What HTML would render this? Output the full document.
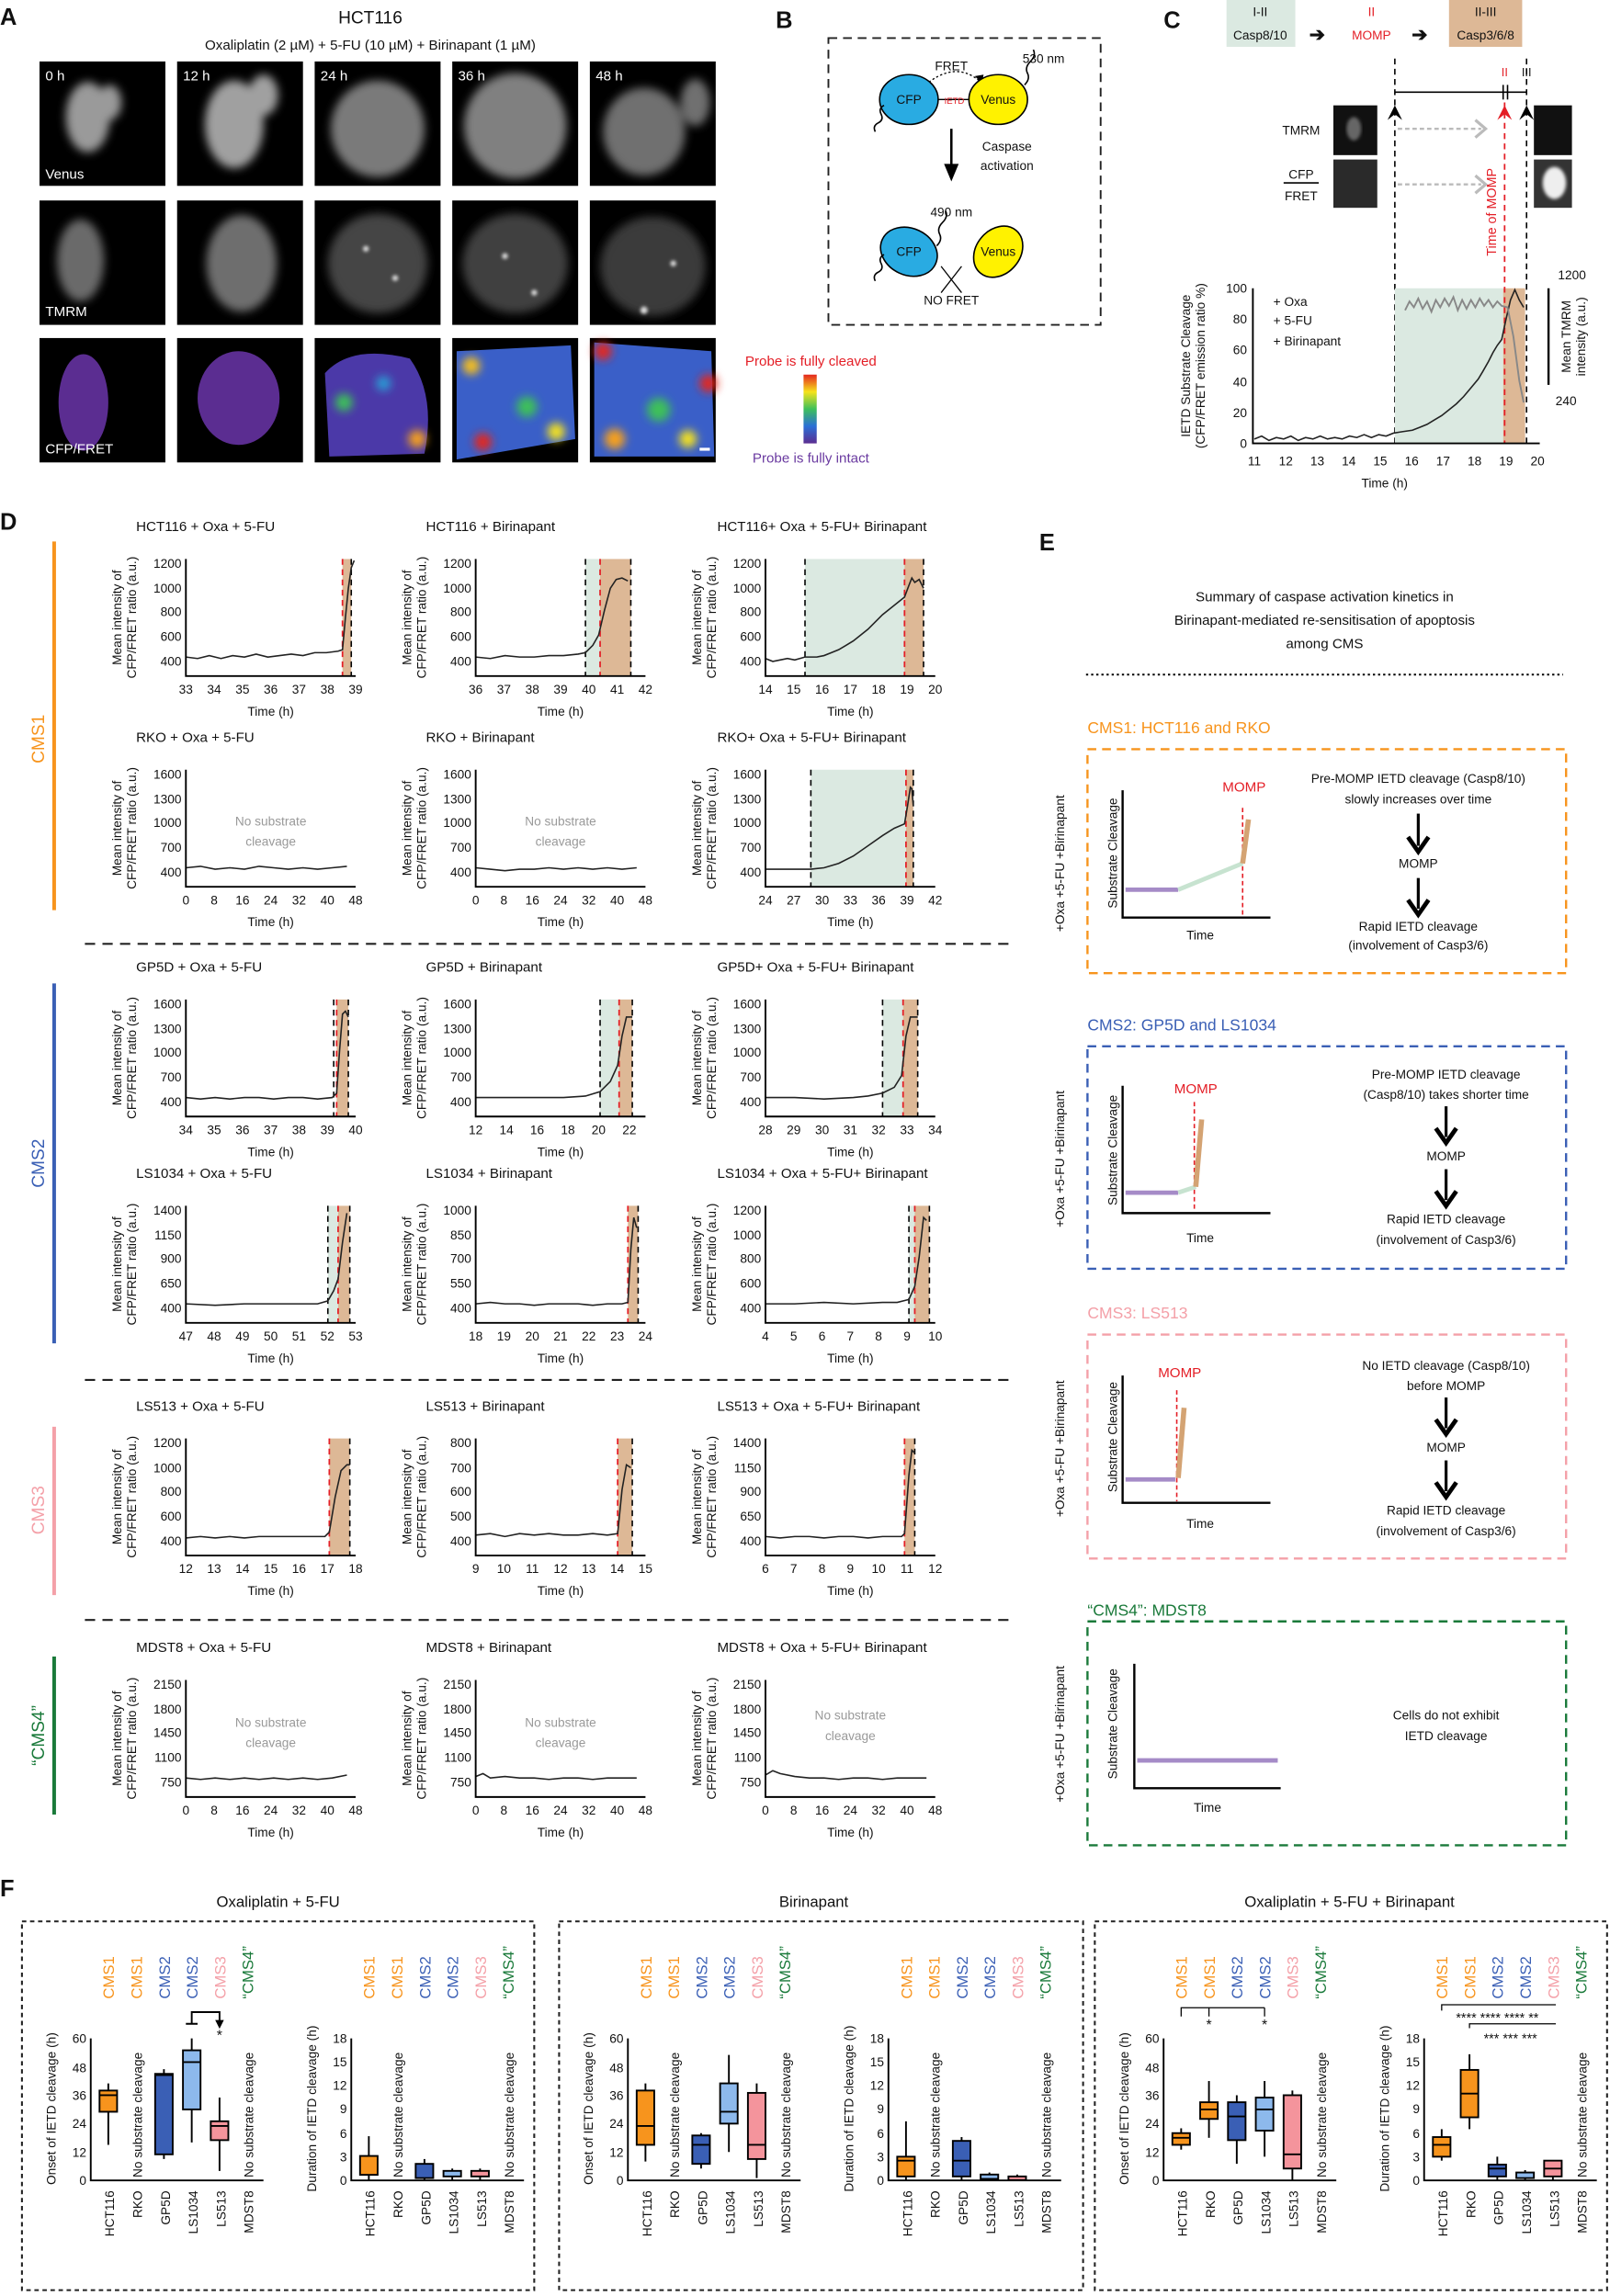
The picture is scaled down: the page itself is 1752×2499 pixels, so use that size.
<!DOCTYPE html>
<html><head><meta charset="utf-8"><style>
html,body{margin:0;padding:0;background:#fff}
svg{display:block}
text{font-family:"Liberation Sans",Arial,sans-serif;fill:#111}
.t{font-size:9.5px}
.s{font-size:8.6px}
.yl{font-size:8.6px}
.g{fill:#999}
.ax{fill:none;stroke:#000;stroke-width:1.2}
.ln{fill:none;stroke:#222;stroke-width:1}
.bd{stroke:#000;stroke-width:1;stroke-dasharray:4,3}
.rd{stroke:#e41e26;stroke-width:1.1;stroke-dasharray:4,3}
.gs{fill:#dbe9e1}
.os{fill:#ddb896}
.box{stroke:#000;stroke-width:1.2}
.wh{stroke:#000;stroke-width:1.2}
</style></head><body>
<svg width="1752" height="2499" viewBox="0 0 1100 1569" xmlns="http://www.w3.org/2000/svg">
<defs>
<filter id="bl" x="-20%" y="-20%" width="140%" height="140%"><feGaussianBlur stdDeviation="3"/></filter>
<filter id="bl2"><feGaussianBlur stdDeviation="1.2"/></filter>
<linearGradient id="jet" x1="0" y1="1" x2="0" y2="0">
<stop offset="0" stop-color="#5b2d91"/><stop offset="0.25" stop-color="#2b6fd6"/><stop offset="0.5" stop-color="#3ec05a"/><stop offset="0.75" stop-color="#f6e31b"/><stop offset="1" stop-color="#e4261f"/></linearGradient>
</defs>

<!-- ============ PANEL A ============ -->
<text x="0" y="17" style="font-size:16px;font-weight:bold">A</text>
<text x="253" y="16" text-anchor="middle" style="font-size:12px">HCT116</text>
<text x="253" y="34" text-anchor="middle" class="t">Oxaliplatin (2 µM) + 5-FU (10 µM) + Birinapant (1 µM)</text>
<g>
<rect x="27" y="42" width="86" height="85" fill="#000"/>
<g filter="url(#bl)" fill="#9a9a9a"><ellipse cx="60" cy="80" rx="15" ry="24"/><ellipse cx="75" cy="70" rx="8" ry="12"/></g>
<rect x="121" y="42" width="86" height="85" fill="#000"/>
<g filter="url(#bl)" fill="#a0a0a0"><ellipse cx="160" cy="85" rx="20" ry="30"/><ellipse cx="180" cy="65" rx="10" ry="14"/></g>
<rect x="215" y="42" width="86" height="85" fill="#000"/>
<g filter="url(#bl)" fill="#7a7a7a"><ellipse cx="258" cy="88" rx="32" ry="33"/></g>
<rect x="309" y="42" width="86" height="85" fill="#000"/>
<g filter="url(#bl)" fill="#808080"><ellipse cx="352" cy="86" rx="35" ry="36"/></g>
<rect x="403" y="42" width="86" height="85" fill="#000"/>
<g filter="url(#bl)" fill="#707070"><ellipse cx="440" cy="90" rx="28" ry="30"/><ellipse cx="475" cy="70" rx="10" ry="16"/></g>
<text x="31" y="55" style="font-size:9.5px;fill:#fff">0 h</text>
<text x="125" y="55" style="font-size:9.5px;fill:#fff">12 h</text>
<text x="219" y="55" style="font-size:9.5px;fill:#fff">24 h</text>
<text x="313" y="55" style="font-size:9.5px;fill:#fff">36 h</text>
<text x="407" y="55" style="font-size:9.5px;fill:#fff">48 h</text>
<text x="31" y="122" style="font-size:9.5px;fill:#fff">Venus</text>
</g>
<g>
<rect x="27" y="137" width="86" height="85" fill="#000"/>
<g filter="url(#bl)" fill="#6a6a6a"><ellipse cx="55" cy="178" rx="16" ry="28"/></g>
<rect x="121" y="137" width="86" height="85" fill="#000"/>
<g filter="url(#bl)" fill="#6e6e6e"><ellipse cx="165" cy="180" rx="24" ry="33"/></g>
<rect x="215" y="137" width="86" height="85" fill="#000"/>
<g filter="url(#bl)" fill="#444"><ellipse cx="258" cy="180" rx="34" ry="34"/></g>
<rect x="309" y="137" width="86" height="85" fill="#000"/>
<g filter="url(#bl)" fill="#3f3f3f"><ellipse cx="352" cy="180" rx="36" ry="34"/></g>
<rect x="403" y="137" width="86" height="85" fill="#000"/>
<g filter="url(#bl)" fill="#3a3a3a"><ellipse cx="446" cy="182" rx="36" ry="34"/></g>
<g fill="#ddd" filter="url(#bl2)"><circle cx="250" cy="170" r="2"/><circle cx="270" cy="190" r="2"/><circle cx="345" cy="175" r="2"/><circle cx="365" cy="200" r="2"/><circle cx="440" cy="212" r="2.5"/><circle cx="460" cy="180" r="2"/></g>
<text x="31" y="216" style="font-size:9.5px;fill:#fff">TMRM</text>
</g>
<g>
<rect x="27" y="231" width="86" height="85" fill="#000"/>
<ellipse cx="57" cy="275" rx="17" ry="33" fill="#5b2d91"/>
<rect x="121" y="231" width="86" height="85" fill="#000"/>
<ellipse cx="163" cy="272" rx="28" ry="32" fill="#5b2d91"/>
<rect x="215" y="231" width="86" height="85" fill="#000"/>
<path d="M222,255 Q240,235 280,245 Q298,270 290,310 L225,312 Z" fill="#4b39a8"/>
<g filter="url(#bl)"><circle cx="235" cy="275" r="6" fill="#3ec05a"/><circle cx="285" cy="300" r="6" fill="#f6a01b"/><circle cx="262" cy="262" r="5" fill="#2b9fd6"/></g>
<rect x="309" y="231" width="86" height="85" fill="#000"/>
<path d="M312,240 L390,236 L393,300 L312,314 Z" fill="#3a5fc8"/>
<g filter="url(#bl)"><circle cx="322" cy="250" r="6" fill="#f6c01b"/><circle cx="330" cy="302" r="6" fill="#e4261f"/><circle cx="360" cy="278" r="7" fill="#3ec05a"/><circle cx="380" cy="295" r="6" fill="#f6e31b"/></g>
<rect x="403" y="231" width="86" height="85" fill="#000"/>
<path d="M406,234 L486,240 L488,312 L406,312 Z" fill="#3a5fc8"/>
<g filter="url(#bl)"><circle cx="412" cy="240" r="6" fill="#e4261f"/><circle cx="484" cy="262" r="6" fill="#e4261f"/><circle cx="420" cy="300" r="7" fill="#f6a01b"/><circle cx="450" cy="280" r="8" fill="#3ec05a"/><circle cx="470" cy="300" r="6" fill="#f6e31b"/></g>
<rect x="478" y="306" width="7" height="2" fill="#fff"/>
<text x="31" y="310" style="font-size:9.5px;fill:#fff">CFP/FRET</text>
</g>
<text x="554" y="250" text-anchor="middle" style="font-size:9.5px;fill:#e41e26">Probe is fully cleaved</text>
<rect x="549" y="256" width="9" height="47" fill="url(#jet)"/>
<text x="554" y="316" text-anchor="middle" style="font-size:9.5px;fill:#6a3aa0">Probe is fully intact</text>

<!-- ============ PANEL B ============ -->
<text x="530" y="19" style="font-size:16px;font-weight:bold">B</text>
<rect x="566" y="26" width="186" height="196" fill="none" stroke="#222" stroke-width="1.2" stroke-dasharray="6,4"/>
<text x="650" y="48" text-anchor="middle" class="s">FRET</text>
<text x="713" y="43" text-anchor="middle" class="s">530 nm</text>
<path d="M630,60 Q652,40 670,56" fill="none" stroke="#000" stroke-width="0.8" stroke-dasharray="1.5,1.5"/>
<path d="M666,52 l5,5 l1,-6 z" fill="#000"/>
<ellipse cx="621" cy="68" rx="20" ry="17" fill="#29abe2" stroke="#000" stroke-width="1"/>
<ellipse cx="682" cy="68" rx="20" ry="17" fill="#fff200" stroke="#000" stroke-width="1"/>
<line x1="641" y1="68" x2="662" y2="68" stroke="#000" stroke-width="0.8"/>
<text x="621" y="71" text-anchor="middle" class="s">CFP</text>
<text x="682" y="71" text-anchor="middle" class="s">Venus</text>
<text x="652" y="71" text-anchor="middle" style="font-size:6px;fill:#e41e26">IETD</text>
<path d="M700,58 q4,-4 2,-8 q-2,-4 2,-8 q4,-4 2,-8" fill="none" stroke="#000"/>
<path d="M598,90 q-2,-4 2,-6 q4,-2 2,-6 q-2,-4 2,-6" fill="none" stroke="#000"/>
<line x1="650" y1="88" x2="650" y2="118" stroke="#000" stroke-width="1.6"/>
<path d="M645,112 L650,124 L655,112 Z" fill="#000"/>
<text x="688" y="103" text-anchor="middle" class="s">Caspase</text>
<text x="688" y="116" text-anchor="middle" class="s">activation</text>
<text x="650" y="148" text-anchor="middle" class="s">490 nm</text>
<path d="M640,168 q4,-4 2,-8 q-2,-4 2,-8 q4,-4 2,-8" fill="none" stroke="#000"/>
<ellipse cx="621" cy="172" rx="20" ry="16" fill="#29abe2" stroke="#000" stroke-width="1" transform="rotate(25 621 172)"/>
<ellipse cx="682" cy="172" rx="19" ry="15" fill="#fff200" stroke="#000" stroke-width="1" transform="rotate(-50 682 172)"/>
<text x="621" y="175" text-anchor="middle" class="s">CFP</text>
<text x="682" y="175" text-anchor="middle" class="s">Venus</text>
<path d="M598,192 q-2,-4 2,-6 q4,-2 2,-6 q-2,-4 2,-6" fill="none" stroke="#000"/>
<path d="M643,182 L657,200 M657,182 L643,200" stroke="#000" stroke-width="0.8"/>
<text x="650" y="208" text-anchor="middle" class="s">NO FRET</text>

<!-- ============ PANEL C ============ -->
<text x="795" y="19" style="font-size:16px;font-weight:bold">C</text>
<rect x="838" y="0" width="47" height="32" fill="#dbe9e1"/>
<text x="861" y="11" text-anchor="middle" class="s">I-II</text>
<text x="861" y="27" text-anchor="middle" class="s">Casp8/10</text>
<text x="900" y="28" text-anchor="middle" style="font-size:13px;font-weight:bold">➔</text>
<text x="937" y="11" text-anchor="middle" style="font-size:8.6px;fill:#e41e26">II</text>
<text x="937" y="27" text-anchor="middle" style="font-size:8.6px;fill:#e41e26">MOMP</text>
<text x="970" y="28" text-anchor="middle" style="font-size:13px;font-weight:bold">➔</text>
<rect x="990" y="0" width="50" height="32" fill="#ddb896"/>
<text x="1015" y="11" text-anchor="middle" class="s">II-III</text>
<text x="1015" y="27" text-anchor="middle" class="s">Casp3/6/8</text>
<line x1="953" y1="63" x2="1043" y2="63" stroke="#000" stroke-width="1"/>
<line x1="1027" y1="58" x2="1027" y2="68" stroke="#000"/><line x1="1030" y1="58" x2="1030" y2="68" stroke="#000"/>
<text x="1028" y="52" text-anchor="middle" style="font-size:8px;fill:#e41e26">II</text>
<text x="1043" y="52" text-anchor="middle" style="font-size:8px">III</text>
<line x1="953" y1="40" x2="953" y2="303" class="bd"/>
<line x1="1043" y1="40" x2="1043" y2="303" class="bd"/>
<path d="M948,82 L953,72 L958,82 L953,78 Z" fill="#000"/>
<path d="M1023,82 L1028,72 L1033,82 L1028,78 Z" fill="#e41e26"/>
<path d="M1038,82 L1043,72 L1048,82 L1043,78 Z" fill="#000"/>
<text x="889" y="92" text-anchor="middle" class="s">TMRM</text>
<text x="889" y="122" text-anchor="middle" class="s">CFP</text>
<line x1="877" y1="125" x2="901" y2="125" stroke="#000"/>
<text x="889" y="137" text-anchor="middle" class="s">FRET</text>
<rect x="911" y="72" width="30" height="34" fill="#111"/>
<ellipse cx="925" cy="88" rx="5" ry="8" fill="#666" filter="url(#bl2)"/>
<rect x="911" y="109" width="30" height="33" fill="#2a2a2a"/>
<rect x="1048" y="72" width="26" height="34" fill="#111"/>
<rect x="1048" y="109" width="26" height="33" fill="#333"/>
<ellipse cx="1062" cy="125" rx="8" ry="11" fill="#eee" filter="url(#bl2)"/>
<line x1="955" y1="88" x2="1012" y2="88" stroke="#bbb" stroke-width="1.5" stroke-dasharray="3,2"/>
<line x1="955" y1="126" x2="1012" y2="126" stroke="#bbb" stroke-width="1.5" stroke-dasharray="3,2"/>
<path d="M1008,82 L1015,88 L1008,94" fill="none" stroke="#bbb" stroke-width="2"/>
<path d="M1008,120 L1015,126 L1008,132" fill="none" stroke="#bbb" stroke-width="2"/>
<rect x="953" y="197" width="74" height="106" class="gs"/>
<rect x="1027" y="197" width="15" height="106" class="os"/>
<line x1="1028" y1="70" x2="1028" y2="303" class="rd"/>
<text transform="translate(1022,175) rotate(-90)" style="font-size:9px;fill:#e41e26">Time of MOMP</text>
<path d="M856,197 V303 H1052" class="ax"/>
<g class="s" text-anchor="end">
<text x="852" y="306">0</text><text x="852" y="285">20</text><text x="852" y="264">40</text><text x="852" y="242">60</text><text x="852" y="221">80</text><text x="852" y="200">100</text></g>
<g class="s" text-anchor="middle">
<text x="857" y="318">11</text><text x="878.5" y="318">12</text><text x="900" y="318">13</text><text x="921.5" y="318">14</text><text x="943" y="318">15</text><text x="964.5" y="318">16</text><text x="986" y="318">17</text><text x="1007.5" y="318">18</text><text x="1029" y="318">19</text><text x="1050.5" y="318">20</text></g>
<text x="946" y="333" text-anchor="middle" class="s">Time (h)</text>
<text transform="translate(813,250) rotate(-90)" text-anchor="middle" class="yl">IETD Substrate Cleavage</text>
<text transform="translate(823,250) rotate(-90)" text-anchor="middle" class="yl">(CFP/FRET emission ratio %)</text>
<text x="870" y="209" class="s">+ Oxa</text>
<text x="870" y="222" class="s">+ 5-FU</text>
<text x="870" y="236" class="s">+ Birinapant</text>
<polyline class="ln" points="857,300 862,298 867,301 872,299 877,300 882,298 887,301 892,299 897,300 902,298 907,300 912,299 917,300 922,298 927,299 932,297 937,299 942,297 947,298 952,296 958,295 965,294 970,292 975,290 980,287 985,284 990,280 995,276 1000,271 1005,265 1010,259 1013,254 1017,247 1020,241 1023,236 1026,232 1029,218 1032,205 1035,198 1038,205 1041,210"/>
<polyline fill="none" stroke="#888" stroke-width="1.2" points="960,212 963,206 966,210 969,204 972,211 975,206 978,213 981,205 984,210 987,204 990,209 993,203 996,212 999,205 1002,211 1005,205 1008,210 1011,204 1014,209 1017,205 1020,210 1023,206 1026,209 1030,210 1034,230 1038,260 1041,275"/>
<line x1="1058" y1="197" x2="1058" y2="263" stroke="#000" stroke-width="1.5"/>
<text x="1074" y="191" text-anchor="middle" class="s">1200</text>
<text x="1070" y="277" text-anchor="middle" class="s">240</text>
<text transform="translate(1073,230) rotate(-90)" text-anchor="middle" class="yl">Mean TMRM</text>
<text transform="translate(1083,230) rotate(-90)" text-anchor="middle" class="yl">intensity (a.u.)</text>

<!-- ============ PANEL D ============ -->
<text x="0" y="362" style="font-size:16px;font-weight:bold">D</text>
<line x1="37" y1="370" x2="37" y2="622" stroke="#f7941d" stroke-width="2.5"/>
<line x1="37" y1="672" x2="37" y2="918" stroke="#3a5fb5" stroke-width="2.5"/>
<line x1="37" y1="975" x2="37" y2="1090" stroke="#f4a0a8" stroke-width="2.5"/>
<line x1="37" y1="1132" x2="37" y2="1240" stroke="#1a7a3a" stroke-width="2.5"/>
<text transform="translate(30,505) rotate(-90)" text-anchor="middle" style="font-size:12px;fill:#f7941d">CMS1</text>
<text transform="translate(30,795) rotate(-90)" text-anchor="middle" style="font-size:12px;fill:#3a5fb5">CMS2</text>
<text transform="translate(30,1032) rotate(-90)" text-anchor="middle" style="font-size:12px;fill:#f4a0a8">CMS3</text>
<text transform="translate(30,1186) rotate(-90)" text-anchor="middle" style="font-size:12px;fill:#1a7a3a">“CMS4”</text>
<g stroke="#222" stroke-width="1.3" stroke-dasharray="7,5">
<line x1="58" y1="645" x2="690" y2="645"/><line x1="58" y1="943" x2="690" y2="943"/><line x1="58" y1="1107" x2="690" y2="1107"/></g>

<!-- Row 1 -->
<g transform="translate(127,462)">
<text x="-34" y="-99" class="t">HCT116 + Oxa + 5-FU</text>
<rect x="107" y="-80" width="6" height="80" class="os"/>
<line x1="107" y1="-80" x2="107" y2="0" class="rd"/><line x1="113" y1="-80" x2="113" y2="0" class="bd"/>
<polyline class="ln" points="0,-13 8,-12 16,-14 24,-12 32,-14 40,-13 48,-15 56,-13 64,-14 72,-15 80,-14 88,-16 96,-16 104,-17 107,-18 109,-40 111,-60 113,-74 115,-79"/>
<path d="M0,-80 V0 H116" class="ax"/>
<g class="s" text-anchor="end"><text x="-3" y="-7">400</text><text x="-3" y="-24">600</text><text x="-3" y="-41">800</text><text x="-3" y="-57">1000</text><text x="-3" y="-74">1200</text></g>
<g class="s" text-anchor="middle"><text x="0" y="12">33</text><text x="19.3" y="12">34</text><text x="38.7" y="12">35</text><text x="58" y="12">36</text><text x="77.3" y="12">37</text><text x="96.7" y="12">38</text><text x="116" y="12">39</text></g>
<text x="58" y="27" text-anchor="middle" class="s">Time (h)</text>
<text transform="translate(-44,-40) rotate(-90)" text-anchor="middle" class="yl">Mean intensity of</text>
<text transform="translate(-34,-40) rotate(-90)" text-anchor="middle" class="yl">CFP/FRET ratio (a.u.)</text>
</g>
<g transform="translate(325,462)">
<text x="-34" y="-99" class="t">HCT116 + Birinapant</text>
<rect x="75" y="-80" width="10" height="80" class="gs"/><rect x="85" y="-80" width="21" height="80" class="os"/>
<line x1="75" y1="-80" x2="75" y2="0" class="bd"/><line x1="85" y1="-80" x2="85" y2="0" class="rd"/><line x1="106" y1="-80" x2="106" y2="0" class="bd"/>
<polyline class="ln" points="0,-13 10,-12 20,-14 30,-13 40,-13 50,-14 60,-14 70,-15 75,-16 80,-21 84,-28 88,-45 92,-60 96,-66 100,-67 104,-65"/>
<path d="M0,-80 V0 H116" class="ax"/>
<g class="s" text-anchor="end"><text x="-3" y="-7">400</text><text x="-3" y="-24">600</text><text x="-3" y="-41">800</text><text x="-3" y="-57">1000</text><text x="-3" y="-74">1200</text></g>
<g class="s" text-anchor="middle"><text x="0" y="12">36</text><text x="19.3" y="12">37</text><text x="38.7" y="12">38</text><text x="58" y="12">39</text><text x="77.3" y="12">40</text><text x="96.7" y="12">41</text><text x="116" y="12">42</text></g>
<text x="58" y="27" text-anchor="middle" class="s">Time (h)</text>
<text transform="translate(-44,-40) rotate(-90)" text-anchor="middle" class="yl">Mean intensity of</text>
<text transform="translate(-34,-40) rotate(-90)" text-anchor="middle" class="yl">CFP/FRET ratio (a.u.)</text>
</g>
<g transform="translate(523,462)">
<text x="-33" y="-99" class="t">HCT116+ Oxa + 5-FU+ Birinapant</text>
<rect x="27" y="-80" width="68" height="80" class="gs"/><rect x="95" y="-80" width="13" height="80" class="os"/>
<line x1="27" y1="-80" x2="27" y2="0" class="bd"/><line x1="95" y1="-80" x2="95" y2="0" class="rd"/><line x1="108" y1="-80" x2="108" y2="0" class="bd"/>
<polyline class="ln" points="0,-12 5,-10 10,-11 15,-12 20,-11 27,-13 35,-13 40,-14 45,-16 50,-18 55,-21 60,-24 65,-28 70,-32 75,-37 80,-42 85,-46 90,-50 95,-54 98,-62 100,-67 102,-64 105,-66 108,-60"/>
<path d="M0,-80 V0 H116" class="ax"/>
<g class="s" text-anchor="end"><text x="-3" y="-7">400</text><text x="-3" y="-24">600</text><text x="-3" y="-41">800</text><text x="-3" y="-57">1000</text><text x="-3" y="-74">1200</text></g>
<g class="s" text-anchor="middle"><text x="0" y="12">14</text><text x="19.3" y="12">15</text><text x="38.7" y="12">16</text><text x="58" y="12">17</text><text x="77.3" y="12">18</text><text x="96.7" y="12">19</text><text x="116" y="12">20</text></g>
<text x="58" y="27" text-anchor="middle" class="s">Time (h)</text>
<text transform="translate(-44,-40) rotate(-90)" text-anchor="middle" class="yl">Mean intensity of</text>
<text transform="translate(-34,-40) rotate(-90)" text-anchor="middle" class="yl">CFP/FRET ratio (a.u.)</text>
</g>

<!-- Row 2 -->
<g transform="translate(127,606)">
<text x="-34" y="-99" class="t">RKO + Oxa + 5-FU</text>
<text x="58" y="-42" text-anchor="middle" class="s g">No substrate</text>
<text x="58" y="-28" text-anchor="middle" class="s g">cleavage</text>
<polyline class="ln" points="0,-13 10,-14 20,-12 30,-13 40,-12 50,-14 60,-13 70,-12 80,-13 90,-12 100,-13 110,-14"/>
<path d="M0,-80 V0 H116" class="ax"/>
<g class="s" text-anchor="end"><text x="-3" y="-7">400</text><text x="-3" y="-24">700</text><text x="-3" y="-41">1000</text><text x="-3" y="-57">1300</text><text x="-3" y="-74">1600</text></g>
<g class="s" text-anchor="middle"><text x="0" y="12">0</text><text x="19.3" y="12">8</text><text x="38.7" y="12">16</text><text x="58" y="12">24</text><text x="77.3" y="12">32</text><text x="96.7" y="12">40</text><text x="116" y="12">48</text></g>
<text x="58" y="27" text-anchor="middle" class="s">Time (h)</text>
<text transform="translate(-44,-40) rotate(-90)" text-anchor="middle" class="yl">Mean intensity of</text>
<text transform="translate(-34,-40) rotate(-90)" text-anchor="middle" class="yl">CFP/FRET ratio (a.u.)</text>
</g>
<g transform="translate(325,606)">
<text x="-34" y="-99" class="t">RKO + Birinapant</text>
<text x="58" y="-42" text-anchor="middle" class="s g">No substrate</text>
<text x="58" y="-28" text-anchor="middle" class="s g">cleavage</text>
<polyline class="ln" points="0,-13 10,-12 20,-11 30,-12 40,-12 50,-13 60,-12 70,-13 80,-12 90,-13 100,-12 110,-13"/>
<path d="M0,-80 V0 H116" class="ax"/>
<g class="s" text-anchor="end"><text x="-3" y="-7">400</text><text x="-3" y="-24">700</text><text x="-3" y="-41">1000</text><text x="-3" y="-57">1300</text><text x="-3" y="-74">1600</text></g>
<g class="s" text-anchor="middle"><text x="0" y="12">0</text><text x="19.3" y="12">8</text><text x="38.7" y="12">16</text><text x="58" y="12">24</text><text x="77.3" y="12">32</text><text x="96.7" y="12">40</text><text x="116" y="12">48</text></g>
<text x="58" y="27" text-anchor="middle" class="s">Time (h)</text>
<text transform="translate(-44,-40) rotate(-90)" text-anchor="middle" class="yl">Mean intensity of</text>
<text transform="translate(-34,-40) rotate(-90)" text-anchor="middle" class="yl">CFP/FRET ratio (a.u.)</text>
</g>
<g transform="translate(523,606)">
<text x="-33" y="-99" class="t">RKO+ Oxa + 5-FU+ Birinapant</text>
<rect x="31" y="-80" width="65" height="80" class="gs"/><rect x="96" y="-80" width="5" height="80" class="os"/>
<line x1="31" y1="-80" x2="31" y2="0" class="bd"/><line x1="96" y1="-80" x2="96" y2="0" class="rd"/><line x1="101" y1="-80" x2="101" y2="0" class="bd"/>
<polyline class="ln" points="0,-12 15,-12 31,-12 40,-13 50,-16 60,-21 70,-28 80,-35 88,-40 95,-43 97,-55 99,-68 100,-67 101,-55"/>
<path d="M0,-80 V0 H116" class="ax"/>
<g class="s" text-anchor="end"><text x="-3" y="-7">400</text><text x="-3" y="-24">700</text><text x="-3" y="-41">1000</text><text x="-3" y="-57">1300</text><text x="-3" y="-74">1600</text></g>
<g class="s" text-anchor="middle"><text x="0" y="12">24</text><text x="19.3" y="12">27</text><text x="38.7" y="12">30</text><text x="58" y="12">33</text><text x="77.3" y="12">36</text><text x="96.7" y="12">39</text><text x="116" y="12">42</text></g>
<text x="58" y="27" text-anchor="middle" class="s">Time (h)</text>
<text transform="translate(-44,-40) rotate(-90)" text-anchor="middle" class="yl">Mean intensity of</text>
<text transform="translate(-34,-40) rotate(-90)" text-anchor="middle" class="yl">CFP/FRET ratio (a.u.)</text>
</g>

<!-- Row 3 -->
<g transform="translate(127,763)">
<text x="-34" y="-99" class="t">GP5D + Oxa + 5-FU</text>
<rect x="103" y="-80" width="8" height="80" class="os"/>
<line x1="103" y1="-80" x2="103" y2="0" class="rd"/><line x1="111" y1="-80" x2="111" y2="0" class="bd"/><line x1="101" y1="-80" x2="101" y2="0" class="bd"/>
<polyline class="ln" points="0,-13 10,-12 20,-13 30,-12 40,-13 50,-13 60,-12 70,-13 80,-13 90,-12 100,-13 103,-16 105,-45 107,-70 109,-72 111,-68"/>
<path d="M0,-80 V0 H116" class="ax"/>
<g class="s" text-anchor="end"><text x="-3" y="-7">400</text><text x="-3" y="-24">700</text><text x="-3" y="-41">1000</text><text x="-3" y="-57">1300</text><text x="-3" y="-74">1600</text></g>
<g class="s" text-anchor="middle"><text x="0" y="12">34</text><text x="19.3" y="12">35</text><text x="38.7" y="12">36</text><text x="58" y="12">37</text><text x="77.3" y="12">38</text><text x="96.7" y="12">39</text><text x="116" y="12">40</text></g>
<text x="58" y="27" text-anchor="middle" class="s">Time (h)</text>
<text transform="translate(-44,-40) rotate(-90)" text-anchor="middle" class="yl">Mean intensity of</text>
<text transform="translate(-34,-40) rotate(-90)" text-anchor="middle" class="yl">CFP/FRET ratio (a.u.)</text>
</g>
<g transform="translate(325,763)">
<text x="-34" y="-99" class="t">GP5D + Birinapant</text>
<rect x="85" y="-80" width="13" height="80" class="gs"/><rect x="98" y="-80" width="9" height="80" class="os"/>
<line x1="85" y1="-80" x2="85" y2="0" class="bd"/><line x1="98" y1="-80" x2="98" y2="0" class="rd"/><line x1="107" y1="-80" x2="107" y2="0" class="bd"/>
<polyline class="ln" points="0,-13 20,-13 40,-13 60,-13 75,-14 85,-17 92,-24 97,-35 100,-55 103,-68 107,-68"/>
<path d="M0,-80 V0 H116" class="ax"/>
<g class="s" text-anchor="end"><text x="-3" y="-7">400</text><text x="-3" y="-24">700</text><text x="-3" y="-41">1000</text><text x="-3" y="-57">1300</text><text x="-3" y="-74">1600</text></g>
<g class="s" text-anchor="middle"><text x="0" y="12">12</text><text x="21" y="12">14</text><text x="42" y="12">16</text><text x="63" y="12">18</text><text x="84" y="12">20</text><text x="105" y="12">22</text></g>
<text x="58" y="27" text-anchor="middle" class="s">Time (h)</text>
<text transform="translate(-44,-40) rotate(-90)" text-anchor="middle" class="yl">Mean intensity of</text>
<text transform="translate(-34,-40) rotate(-90)" text-anchor="middle" class="yl">CFP/FRET ratio (a.u.)</text>
</g>
<g transform="translate(523,763)">
<text x="-33" y="-99" class="t">GP5D+ Oxa + 5-FU+ Birinapant</text>
<rect x="80" y="-80" width="14" height="80" class="gs"/><rect x="94" y="-80" width="10" height="80" class="os"/>
<line x1="80" y1="-80" x2="80" y2="0" class="bd"/><line x1="94" y1="-80" x2="94" y2="0" class="rd"/><line x1="104" y1="-80" x2="104" y2="0" class="bd"/>
<polyline class="ln" points="0,-13 20,-13 40,-12 60,-13 70,-14 80,-16 88,-20 93,-28 96,-55 99,-68 104,-68"/>
<path d="M0,-80 V0 H116" class="ax"/>
<g class="s" text-anchor="end"><text x="-3" y="-7">400</text><text x="-3" y="-24">700</text><text x="-3" y="-41">1000</text><text x="-3" y="-57">1300</text><text x="-3" y="-74">1600</text></g>
<g class="s" text-anchor="middle"><text x="0" y="12">28</text><text x="19.3" y="12">29</text><text x="38.7" y="12">30</text><text x="58" y="12">31</text><text x="77.3" y="12">32</text><text x="96.7" y="12">33</text><text x="116" y="12">34</text></g>
<text x="58" y="27" text-anchor="middle" class="s">Time (h)</text>
<text transform="translate(-44,-40) rotate(-90)" text-anchor="middle" class="yl">Mean intensity of</text>
<text transform="translate(-34,-40) rotate(-90)" text-anchor="middle" class="yl">CFP/FRET ratio (a.u.)</text>
</g>

<!-- Row 4 -->
<g transform="translate(127,904)">
<text x="-34" y="-99" class="t">LS1034 + Oxa + 5-FU</text>
<rect x="97" y="-80" width="7" height="80" class="gs"/><rect x="104" y="-80" width="8" height="80" class="os"/>
<line x1="97" y1="-80" x2="97" y2="0" class="bd"/><line x1="104" y1="-80" x2="104" y2="0" class="rd"/><line x1="112" y1="-80" x2="112" y2="0" class="bd"/>
<polyline class="ln" points="0,-13 20,-12 40,-13 60,-13 80,-13 90,-13 97,-15 101,-22 104,-30 107,-55 110,-75"/>
<path d="M0,-80 V0 H116" class="ax"/>
<g class="s" text-anchor="end"><text x="-3" y="-7">400</text><text x="-3" y="-24">650</text><text x="-3" y="-41">900</text><text x="-3" y="-57">1150</text><text x="-3" y="-74">1400</text></g>
<g class="s" text-anchor="middle"><text x="0" y="12">47</text><text x="19.3" y="12">48</text><text x="38.7" y="12">49</text><text x="58" y="12">50</text><text x="77.3" y="12">51</text><text x="96.7" y="12">52</text><text x="116" y="12">53</text></g>
<text x="58" y="27" text-anchor="middle" class="s">Time (h)</text>
<text transform="translate(-44,-40) rotate(-90)" text-anchor="middle" class="yl">Mean intensity of</text>
<text transform="translate(-34,-40) rotate(-90)" text-anchor="middle" class="yl">CFP/FRET ratio (a.u.)</text>
</g>
<g transform="translate(325,904)">
<text x="-34" y="-99" class="t">LS1034 + Birinapant</text>
<rect x="104" y="-80" width="7" height="80" class="os"/>
<line x1="104" y1="-80" x2="104" y2="0" class="rd"/><line x1="111" y1="-80" x2="111" y2="0" class="bd"/>
<polyline class="ln" points="0,-13 10,-14 20,-13 30,-13 40,-12 50,-13 60,-13 70,-13 80,-12 90,-13 100,-13 104,-14 106,-50 108,-72 110,-65"/>
<path d="M0,-80 V0 H116" class="ax"/>
<g class="s" text-anchor="end"><text x="-3" y="-7">400</text><text x="-3" y="-24">550</text><text x="-3" y="-41">700</text><text x="-3" y="-57">850</text><text x="-3" y="-74">1000</text></g>
<g class="s" text-anchor="middle"><text x="0" y="12">18</text><text x="19.3" y="12">19</text><text x="38.7" y="12">20</text><text x="58" y="12">21</text><text x="77.3" y="12">22</text><text x="96.7" y="12">23</text><text x="116" y="12">24</text></g>
<text x="58" y="27" text-anchor="middle" class="s">Time (h)</text>
<text transform="translate(-44,-40) rotate(-90)" text-anchor="middle" class="yl">Mean intensity of</text>
<text transform="translate(-34,-40) rotate(-90)" text-anchor="middle" class="yl">CFP/FRET ratio (a.u.)</text>
</g>
<g transform="translate(523,904)">
<text x="-33" y="-99" class="t">LS1034 + Oxa + 5-FU+ Birinapant</text>
<rect x="98" y="-80" width="4" height="80" class="gs"/><rect x="102" y="-80" width="10" height="80" class="os"/>
<line x1="98" y1="-80" x2="98" y2="0" class="bd"/><line x1="102" y1="-80" x2="102" y2="0" class="rd"/><line x1="112" y1="-80" x2="112" y2="0" class="bd"/>
<polyline class="ln" points="0,-13 20,-13 40,-14 60,-13 80,-14 90,-14 98,-16 102,-25 105,-45 108,-72 110,-70"/>
<path d="M0,-80 V0 H116" class="ax"/>
<g class="s" text-anchor="end"><text x="-3" y="-7">400</text><text x="-3" y="-24">600</text><text x="-3" y="-41">800</text><text x="-3" y="-57">1000</text><text x="-3" y="-74">1200</text></g>
<g class="s" text-anchor="middle"><text x="0" y="12">4</text><text x="19.3" y="12">5</text><text x="38.7" y="12">6</text><text x="58" y="12">7</text><text x="77.3" y="12">8</text><text x="96.7" y="12">9</text><text x="116" y="12">10</text></g>
<text x="58" y="27" text-anchor="middle" class="s">Time (h)</text>
<text transform="translate(-44,-40) rotate(-90)" text-anchor="middle" class="yl">Mean intensity of</text>
<text transform="translate(-34,-40) rotate(-90)" text-anchor="middle" class="yl">CFP/FRET ratio (a.u.)</text>
</g>

<!-- Row 5 -->
<g transform="translate(127,1063)">
<text x="-34" y="-99" class="t">LS513 + Oxa + 5-FU</text>
<rect x="98" y="-80" width="14" height="80" class="os"/>
<line x1="98" y1="-80" x2="98" y2="0" class="rd"/><line x1="112" y1="-80" x2="112" y2="0" class="bd"/>
<polyline class="ln" points="0,-12 10,-13 20,-12 30,-13 40,-12 50,-13 60,-13 70,-13 80,-13 90,-13 95,-13 98,-16 102,-40 106,-58 110,-62 112,-62"/>
<path d="M0,-80 V0 H116" class="ax"/>
<g class="s" text-anchor="end"><text x="-3" y="-7">400</text><text x="-3" y="-24">600</text><text x="-3" y="-41">800</text><text x="-3" y="-57">1000</text><text x="-3" y="-74">1200</text></g>
<g class="s" text-anchor="middle"><text x="0" y="12">12</text><text x="19.3" y="12">13</text><text x="38.7" y="12">14</text><text x="58" y="12">15</text><text x="77.3" y="12">16</text><text x="96.7" y="12">17</text><text x="116" y="12">18</text></g>
<text x="58" y="27" text-anchor="middle" class="s">Time (h)</text>
<text transform="translate(-44,-40) rotate(-90)" text-anchor="middle" class="yl">Mean intensity of</text>
<text transform="translate(-34,-40) rotate(-90)" text-anchor="middle" class="yl">CFP/FRET ratio (a.u.)</text>
</g>
<g transform="translate(325,1063)">
<text x="-34" y="-99" class="t">LS513 + Birinapant</text>
<rect x="97" y="-80" width="10" height="80" class="os"/>
<line x1="97" y1="-80" x2="97" y2="0" class="rd"/><line x1="107" y1="-80" x2="107" y2="0" class="bd"/>
<polyline class="ln" points="0,-14 10,-15 20,-13 30,-15 40,-14 50,-15 60,-14 70,-14 80,-15 90,-14 97,-15 100,-45 103,-62 106,-60"/>
<path d="M0,-80 V0 H116" class="ax"/>
<g class="s" text-anchor="end"><text x="-3" y="-7">400</text><text x="-3" y="-24">500</text><text x="-3" y="-41">600</text><text x="-3" y="-57">700</text><text x="-3" y="-74">800</text></g>
<g class="s" text-anchor="middle"><text x="0" y="12">9</text><text x="19.3" y="12">10</text><text x="38.7" y="12">11</text><text x="58" y="12">12</text><text x="77.3" y="12">13</text><text x="96.7" y="12">14</text><text x="116" y="12">15</text></g>
<text x="58" y="27" text-anchor="middle" class="s">Time (h)</text>
<text transform="translate(-44,-40) rotate(-90)" text-anchor="middle" class="yl">Mean intensity of</text>
<text transform="translate(-34,-40) rotate(-90)" text-anchor="middle" class="yl">CFP/FRET ratio (a.u.)</text>
</g>
<g transform="translate(523,1063)">
<text x="-33" y="-99" class="t">LS513 + Oxa + 5-FU+ Birinapant</text>
<rect x="95" y="-80" width="7" height="80" class="os"/>
<line x1="95" y1="-80" x2="95" y2="0" class="rd"/><line x1="102" y1="-80" x2="102" y2="0" class="bd"/>
<polyline class="ln" points="0,-13 10,-12 20,-13 30,-13 40,-12 50,-13 60,-13 70,-12 80,-13 93,-13 95,-15 98,-55 100,-72 102,-70"/>
<path d="M0,-80 V0 H116" class="ax"/>
<g class="s" text-anchor="end"><text x="-3" y="-7">400</text><text x="-3" y="-24">650</text><text x="-3" y="-41">900</text><text x="-3" y="-57">1150</text><text x="-3" y="-74">1400</text></g>
<g class="s" text-anchor="middle"><text x="0" y="12">6</text><text x="19.3" y="12">7</text><text x="38.7" y="12">8</text><text x="58" y="12">9</text><text x="77.3" y="12">10</text><text x="96.7" y="12">11</text><text x="116" y="12">12</text></g>
<text x="58" y="27" text-anchor="middle" class="s">Time (h)</text>
<text transform="translate(-44,-40) rotate(-90)" text-anchor="middle" class="yl">Mean intensity of</text>
<text transform="translate(-34,-40) rotate(-90)" text-anchor="middle" class="yl">CFP/FRET ratio (a.u.)</text>
</g>

<!-- Row 6 -->
<g transform="translate(127,1228)">
<text x="-34" y="-99" class="t">MDST8 + Oxa + 5-FU</text>
<text x="58" y="-48" text-anchor="middle" class="s g">No substrate</text>
<text x="58" y="-34" text-anchor="middle" class="s g">cleavage</text>
<polyline class="ln" points="0,-13 10,-12 20,-13 30,-12 40,-13 50,-12 60,-13 70,-12 80,-13 90,-12 100,-13 110,-15"/>
<path d="M0,-80 V0 H116" class="ax"/>
<g class="s" text-anchor="end"><text x="-3" y="-7">750</text><text x="-3" y="-24">1100</text><text x="-3" y="-41">1450</text><text x="-3" y="-57">1800</text><text x="-3" y="-74">2150</text></g>
<g class="s" text-anchor="middle"><text x="0" y="12">0</text><text x="19.3" y="12">8</text><text x="38.7" y="12">16</text><text x="58" y="12">24</text><text x="77.3" y="12">32</text><text x="96.7" y="12">40</text><text x="116" y="12">48</text></g>
<text x="58" y="27" text-anchor="middle" class="s">Time (h)</text>
<text transform="translate(-44,-40) rotate(-90)" text-anchor="middle" class="yl">Mean intensity of</text>
<text transform="translate(-34,-40) rotate(-90)" text-anchor="middle" class="yl">CFP/FRET ratio (a.u.)</text>
</g>
<g transform="translate(325,1228)">
<text x="-34" y="-99" class="t">MDST8 + Birinapant</text>
<text x="58" y="-48" text-anchor="middle" class="s g">No substrate</text>
<text x="58" y="-34" text-anchor="middle" class="s g">cleavage</text>
<polyline class="ln" points="0,-14 5,-16 10,-13 20,-14 30,-13 40,-13 50,-12 60,-13 70,-13 80,-12 90,-13 100,-13 110,-13"/>
<path d="M0,-80 V0 H116" class="ax"/>
<g class="s" text-anchor="end"><text x="-3" y="-7">750</text><text x="-3" y="-24">1100</text><text x="-3" y="-41">1450</text><text x="-3" y="-57">1800</text><text x="-3" y="-74">2150</text></g>
<g class="s" text-anchor="middle"><text x="0" y="12">0</text><text x="19.3" y="12">8</text><text x="38.7" y="12">16</text><text x="58" y="12">24</text><text x="77.3" y="12">32</text><text x="96.7" y="12">40</text><text x="116" y="12">48</text></g>
<text x="58" y="27" text-anchor="middle" class="s">Time (h)</text>
<text transform="translate(-44,-40) rotate(-90)" text-anchor="middle" class="yl">Mean intensity of</text>
<text transform="translate(-34,-40) rotate(-90)" text-anchor="middle" class="yl">CFP/FRET ratio (a.u.)</text>
</g>
<g transform="translate(523,1228)">
<text x="-33" y="-99" class="t">MDST8 + Oxa + 5-FU+ Birinapant</text>
<text x="58" y="-53" text-anchor="middle" class="s g">No substrate</text>
<text x="58" y="-39" text-anchor="middle" class="s g">cleavage</text>
<polyline class="ln" points="0,-15 5,-18 10,-16 20,-14 30,-13 40,-13 50,-12 60,-13 70,-13 80,-12 90,-13 100,-13 110,-13"/>
<path d="M0,-80 V0 H116" class="ax"/>
<g class="s" text-anchor="end"><text x="-3" y="-7">750</text><text x="-3" y="-24">1100</text><text x="-3" y="-41">1450</text><text x="-3" y="-57">1800</text><text x="-3" y="-74">2150</text></g>
<g class="s" text-anchor="middle"><text x="0" y="12">0</text><text x="19.3" y="12">8</text><text x="38.7" y="12">16</text><text x="58" y="12">24</text><text x="77.3" y="12">32</text><text x="96.7" y="12">40</text><text x="116" y="12">48</text></g>
<text x="58" y="27" text-anchor="middle" class="s">Time (h)</text>
<text transform="translate(-44,-40) rotate(-90)" text-anchor="middle" class="yl">Mean intensity of</text>
<text transform="translate(-34,-40) rotate(-90)" text-anchor="middle" class="yl">CFP/FRET ratio (a.u.)</text>
</g>

<!-- ============ PANEL E ============ -->
<text x="710" y="376" style="font-size:16px;font-weight:bold">E</text>
<text x="905" y="411" text-anchor="middle" class="t">Summary of caspase activation kinetics in</text>
<text x="905" y="427" text-anchor="middle" class="t">Birinapant-mediated re-sensitisation of apoptosis</text>
<text x="905" y="443" text-anchor="middle" class="t">among CMS</text>
<line x1="742" y1="461" x2="1068" y2="461" stroke="#000" stroke-width="1.2" stroke-dasharray="1.5,2"/>

<text x="743" y="501" style="font-size:11px;fill:#f7941d">CMS1: HCT116 and RKO</text>
<rect x="743" y="512" width="327" height="153" fill="none" stroke="#f7941d" stroke-width="1.5" stroke-dasharray="6,4"/>
<text transform="translate(727,590) rotate(-90)" text-anchor="middle" class="s">+Oxa +5-FU +Birinapant</text>
<text transform="translate(763,583) rotate(-90)" text-anchor="middle" class="s">Substrate Cleavage</text>
<path d="M767,540 V627 H868" fill="none" stroke="#000" stroke-width="1.5"/>
<line x1="849" y1="552" x2="849" y2="625" stroke="#e41e26" stroke-width="1" stroke-dasharray="3,2"/>
<line x1="769" y1="608" x2="805" y2="608" stroke="#a58bc7" stroke-width="3"/>
<line x1="805" y1="608" x2="849" y2="590" stroke="#c7e3d0" stroke-width="3"/>
<line x1="849" y1="590" x2="853" y2="560" stroke="#d4a373" stroke-width="3.5"/>
<text x="850" y="541" text-anchor="middle" style="font-size:9.5px;fill:#e41e26">MOMP</text>
<text x="820" y="642" text-anchor="middle" class="s">Time</text>
<text x="969" y="535" text-anchor="middle" class="s">Pre-MOMP IETD cleavage (Casp8/10)</text>
<text x="969" y="549" text-anchor="middle" class="s">slowly increases over time</text>
<line x1="969" y1="556" x2="969" y2="578" stroke="#000" stroke-width="2"/><path d="M962,572 L969,582 L976,572" fill="none" stroke="#000" stroke-width="3"/>
<text x="969" y="593" text-anchor="middle" class="s">MOMP</text>
<line x1="969" y1="600" x2="969" y2="621" stroke="#000" stroke-width="2"/><path d="M962,615 L969,625 L976,615" fill="none" stroke="#000" stroke-width="3"/>
<text x="969" y="636" text-anchor="middle" class="s">Rapid IETD cleavage</text>
<text x="969" y="649" text-anchor="middle" class="s">(involvement of Casp3/6)</text>

<text x="743" y="704" style="font-size:11px;fill:#3a5fb5">CMS2: GP5D and LS1034</text>
<rect x="743" y="715" width="327" height="152" fill="none" stroke="#3a5fb5" stroke-width="1.5" stroke-dasharray="6,4"/>
<text transform="translate(727,792) rotate(-90)" text-anchor="middle" class="s">+Oxa +5-FU +Birinapant</text>
<text transform="translate(763,786) rotate(-90)" text-anchor="middle" class="s">Substrate Cleavage</text>
<path d="M767,742 V829 H868" fill="none" stroke="#000" stroke-width="1.5"/>
<line x1="816" y1="753" x2="816" y2="828" stroke="#e41e26" stroke-width="1" stroke-dasharray="3,2"/>
<line x1="769" y1="815" x2="805" y2="815" stroke="#a58bc7" stroke-width="3"/>
<line x1="805" y1="815" x2="817" y2="811" stroke="#c7e3d0" stroke-width="3"/>
<line x1="817" y1="811" x2="821" y2="765" stroke="#d4a373" stroke-width="3.5"/>
<text x="817" y="747" text-anchor="middle" style="font-size:9.5px;fill:#e41e26">MOMP</text>
<text x="820" y="849" text-anchor="middle" class="s">Time</text>
<text x="988" y="737" text-anchor="middle" class="s">Pre-MOMP IETD cleavage</text>
<text x="988" y="751" text-anchor="middle" class="s">(Casp8/10) takes shorter time</text>
<line x1="988" y1="756" x2="988" y2="777" stroke="#000" stroke-width="2"/><path d="M981,771 L988,781 L995,771" fill="none" stroke="#000" stroke-width="3"/>
<text x="988" y="793" text-anchor="middle" class="s">MOMP</text>
<line x1="988" y1="799" x2="988" y2="820" stroke="#000" stroke-width="2"/><path d="M981,814 L988,824 L995,814" fill="none" stroke="#000" stroke-width="3"/>
<text x="988" y="836" text-anchor="middle" class="s">Rapid IETD cleavage</text>
<text x="988" y="850" text-anchor="middle" class="s">(involvement of Casp3/6)</text>

<text x="743" y="901" style="font-size:11px;fill:#f4a0a8">CMS3: LS513</text>
<rect x="743" y="912" width="327" height="153" fill="none" stroke="#f4a0a8" stroke-width="1.5" stroke-dasharray="6,4"/>
<text transform="translate(727,990) rotate(-90)" text-anchor="middle" class="s">+Oxa +5-FU +Birinapant</text>
<text transform="translate(763,982) rotate(-90)" text-anchor="middle" class="s">Substrate Cleavage</text>
<path d="M767,940 V1027 H868" fill="none" stroke="#000" stroke-width="1.5"/>
<line x1="804" y1="950" x2="804" y2="1026" stroke="#e41e26" stroke-width="1" stroke-dasharray="3,2"/>
<line x1="769" y1="1011" x2="803" y2="1011" stroke="#a58bc7" stroke-width="3"/>
<line x1="805" y1="1010" x2="809" y2="962" stroke="#d4a373" stroke-width="3.5"/>
<text x="806" y="941" text-anchor="middle" style="font-size:9.5px;fill:#e41e26">MOMP</text>
<text x="820" y="1044" text-anchor="middle" class="s">Time</text>
<text x="988" y="936" text-anchor="middle" class="s">No IETD cleavage (Casp8/10)</text>
<text x="988" y="950" text-anchor="middle" class="s">before MOMP</text>
<line x1="988" y1="955" x2="988" y2="976" stroke="#000" stroke-width="2"/><path d="M981,970 L988,980 L995,970" fill="none" stroke="#000" stroke-width="3"/>
<text x="988" y="992" text-anchor="middle" class="s">MOMP</text>
<line x1="988" y1="998" x2="988" y2="1019" stroke="#000" stroke-width="2"/><path d="M981,1013 L988,1023 L995,1013" fill="none" stroke="#000" stroke-width="3"/>
<text x="988" y="1035" text-anchor="middle" class="s">Rapid IETD cleavage</text>
<text x="988" y="1049" text-anchor="middle" class="s">(involvement of Casp3/6)</text>

<text x="743" y="1104" style="font-size:11px;fill:#1a7a3a">“CMS4”: MDST8</text>
<rect x="743" y="1108" width="327" height="153" fill="none" stroke="#1a7a3a" stroke-width="1.5" stroke-dasharray="6,4"/>
<text transform="translate(727,1185) rotate(-90)" text-anchor="middle" class="s">+Oxa +5-FU +Birinapant</text>
<text transform="translate(763,1178) rotate(-90)" text-anchor="middle" class="s">Substrate Cleavage</text>
<path d="M775,1137 V1222 H875" fill="none" stroke="#000" stroke-width="1.5"/>
<line x1="777" y1="1203" x2="873" y2="1203" stroke="#a58bc7" stroke-width="3"/>
<text x="825" y="1238" text-anchor="middle" class="s">Time</text>
<text x="988" y="1175" text-anchor="middle" class="s">Cells do not exhibit</text>
<text x="988" y="1189" text-anchor="middle" class="s">IETD cleavage</text>

<!-- ============ PANEL F ============ -->
<text x="0" y="1296" style="font-size:16px;font-weight:bold">F</text>
<text x="190" y="1303" text-anchor="middle" style="font-size:10.5px">Oxaliplatin + 5-FU</text>
<text x="556" y="1303" text-anchor="middle" style="font-size:10.5px">Birinapant</text>
<text x="922" y="1303" text-anchor="middle" style="font-size:10.5px">Oxaliplatin + 5-FU + Birinapant</text>
<g fill="none" stroke="#222" stroke-width="1.3" stroke-dasharray="3,2.5">
<rect x="15" y="1313" width="350" height="252"/>
<rect x="382" y="1313" width="358" height="252"/>
<rect x="748" y="1313" width="350" height="252"/></g>

<g id="fb1">
<g style="font-size:10.5px" text-anchor="start">
<text transform="translate(78,1366) rotate(-90)" style="fill:#f7941d">CMS1</text>
<text transform="translate(97,1366) rotate(-90)" style="fill:#f7941d">CMS1</text>
<text transform="translate(116,1366) rotate(-90)" style="fill:#3a5fb5">CMS2</text>
<text transform="translate(135,1366) rotate(-90)" style="fill:#3a5fb5">CMS2</text>
<text transform="translate(154,1366) rotate(-90)" style="fill:#f4a0a8">CMS3</text>
<text transform="translate(173,1366) rotate(-90)" style="fill:#1a7a3a">“CMS4”</text>
<text transform="translate(256,1366) rotate(-90)" style="fill:#f7941d">CMS1</text>
<text transform="translate(275,1366) rotate(-90)" style="fill:#f7941d">CMS1</text>
<text transform="translate(294,1366) rotate(-90)" style="fill:#3a5fb5">CMS2</text>
<text transform="translate(313,1366) rotate(-90)" style="fill:#3a5fb5">CMS2</text>
<text transform="translate(332,1366) rotate(-90)" style="fill:#f4a0a8">CMS3</text>
<text transform="translate(351,1366) rotate(-90)" style="fill:#1a7a3a">“CMS4”</text>
</g>
<path d="M62,1393 V1490 H180" class="ax"/>
<path d="M240,1393 V1490 H358" class="ax"/>
<g class="s" text-anchor="end">
<text x="59" y="1493">0</text><text x="59" y="1474">12</text><text x="59" y="1454">24</text><text x="59" y="1435">36</text><text x="59" y="1416">48</text><text x="59" y="1396">60</text>
<text x="237" y="1493">0</text><text x="237" y="1477">3</text><text x="237" y="1461">6</text><text x="237" y="1444">9</text><text x="237" y="1428">12</text><text x="237" y="1412">15</text><text x="237" y="1396">18</text>
</g>
<text transform="translate(38,1441) rotate(-90)" text-anchor="middle" class="yl">Onset of IETD cleavage (h)</text>
<text transform="translate(216,1441) rotate(-90)" text-anchor="middle" class="yl">Duration of IETD cleavage (h)</text>
<g class="s" text-anchor="end">
<text transform="translate(78,1497) rotate(-90)">HCT116</text><text transform="translate(97,1497) rotate(-90)">RKO</text><text transform="translate(116,1497) rotate(-90)">GP5D</text><text transform="translate(135,1497) rotate(-90)">LS1034</text><text transform="translate(154,1497) rotate(-90)">LS513</text><text transform="translate(173,1497) rotate(-90)">MDST8</text>
<text transform="translate(256,1497) rotate(-90)">HCT116</text><text transform="translate(275,1497) rotate(-90)">RKO</text><text transform="translate(294,1497) rotate(-90)">GP5D</text><text transform="translate(313,1497) rotate(-90)">LS1034</text><text transform="translate(332,1497) rotate(-90)">LS513</text><text transform="translate(351,1497) rotate(-90)">MDST8</text>
</g>
</g>
<use href="#fb1" transform="translate(367,0)"/>
<use href="#fb1" transform="translate(733,0)"/>

<g class="s g" text-anchor="start">
<text transform="translate(97,1488) rotate(-90)">No substrate cleavage</text>
<text transform="translate(173,1488) rotate(-90)">No substrate cleavage</text>
<text transform="translate(275,1488) rotate(-90)">No substrate cleavage</text>
<text transform="translate(351,1488) rotate(-90)">No substrate cleavage</text>
<text transform="translate(464,1488) rotate(-90)">No substrate cleavage</text>
<text transform="translate(540,1488) rotate(-90)">No substrate cleavage</text>
<text transform="translate(642,1488) rotate(-90)">No substrate cleavage</text>
<text transform="translate(718,1488) rotate(-90)">No substrate cleavage</text>
<text transform="translate(906,1488) rotate(-90)">No substrate cleavage</text>
<text transform="translate(1084,1488) rotate(-90)">No substrate cleavage</text>
</g>
<g class="wh">
<line x1="74" y1="1465.7" x2="74" y2="1423.7"/><rect x="68" y="1428.6" width="12" height="14.5" fill="#f7941d" class="box"/><line x1="68" y1="1431.8" x2="80" y2="1431.8"/>
<line x1="112" y1="1475.4" x2="112" y2="1414"/><rect x="106" y="1417.2" width="12" height="55" fill="#3a5fb5" class="box"/><line x1="106" y1="1418" x2="118" y2="1418"/>
<line x1="131" y1="1464.1" x2="131" y2="1393"/><rect x="125" y="1401.1" width="12" height="40.4" fill="#8db9ec" class="box"/><line x1="125" y1="1409.2" x2="137" y2="1409.2"/>
<line x1="150" y1="1483.5" x2="150" y2="1433.4"/><rect x="144" y="1449.6" width="12" height="12.9" fill="#f4949c" class="box"/><line x1="144" y1="1452.8" x2="156" y2="1452.8"/>
<path d="M127,1383 H135 M131,1383 V1375 H150 V1382" fill="none"/><path d="M148,1381 L150,1385 L152,1381 Z" fill="#000"/>
<line x1="252" y1="1490" x2="252" y2="1459.8"/><rect x="246" y="1473.3" width="12" height="12.9" fill="#f7941d" class="box"/>
<line x1="290" y1="1490" x2="290" y2="1475.4"/><rect x="284" y="1478.7" width="12" height="9.7" fill="#3a5fb5" class="box"/>
<line x1="309" y1="1490" x2="309" y2="1481.9"/><rect x="303" y="1483.5" width="12" height="3.8" fill="#8db9ec" class="box"/>
<line x1="328" y1="1490" x2="328" y2="1481.9"/><rect x="322" y="1483.5" width="12" height="3.8" fill="#f4949c" class="box"/>
</g>
<text x="150" y="1394" text-anchor="middle" style="font-size:10px">*</text>

<g class="wh" transform="translate(367,0)">
<line x1="74" y1="1477.1" x2="74" y2="1423.7"/><rect x="68" y="1428.6" width="12" height="37.1" fill="#f7941d" class="box"/><line x1="68" y1="1452.8" x2="80" y2="1452.8"/>
<line x1="112" y1="1481.9" x2="112" y2="1457.7"/><rect x="106" y="1459.3" width="12" height="19.4" fill="#3a5fb5" class="box"/><line x1="106" y1="1465.7" x2="118" y2="1465.7"/>
<line x1="131" y1="1470.6" x2="131" y2="1404.3"/><rect x="125" y="1423.7" width="12" height="27.5" fill="#8db9ec" class="box"/><line x1="125" y1="1443.1" x2="137" y2="1443.1"/>
<line x1="150" y1="1488.4" x2="150" y2="1423.7"/><rect x="144" y="1430.2" width="12" height="45.2" fill="#f4949c" class="box"/><line x1="144" y1="1465.7" x2="156" y2="1465.7"/>
<line x1="252" y1="1490" x2="252" y2="1449.6"/><rect x="246" y="1473.8" width="12" height="13.5" fill="#f7941d" class="box"/><line x1="246" y1="1476.5" x2="258" y2="1476.5"/>
<line x1="290" y1="1490" x2="290" y2="1460.4"/><rect x="284" y="1463" width="12" height="24.3" fill="#3a5fb5" class="box"/><line x1="284" y1="1476.5" x2="296" y2="1476.5"/>
<line x1="309" y1="1490" x2="309" y2="1484.6"/><rect x="303" y="1486" width="12" height="3" fill="#8db9ec" class="box"/>
<line x1="328" y1="1490" x2="328" y2="1486"/><rect x="322" y="1487.3" width="12" height="2.5" fill="#f4949c" class="box"/>
</g>

<g class="wh" transform="translate(733,0)">
<line x1="74" y1="1469" x2="74" y2="1454.4"/><rect x="68" y="1457.7" width="12" height="8" fill="#f7941d" class="box"/><line x1="68" y1="1460.9" x2="80" y2="1460.9"/>
<line x1="93" y1="1460.9" x2="93" y2="1422.1"/><rect x="87" y="1436.6" width="12" height="11.4" fill="#f7941d" class="box"/><line x1="87" y1="1441.5" x2="99" y2="1441.5"/>
<line x1="112" y1="1478.7" x2="112" y2="1431.8"/><rect x="106" y="1436.6" width="12" height="25.9" fill="#3a5fb5" class="box"/><line x1="106" y1="1446.3" x2="118" y2="1446.3"/>
<line x1="131" y1="1473.8" x2="131" y2="1422.1"/><rect x="125" y="1433.4" width="12" height="22.6" fill="#8db9ec" class="box"/><line x1="125" y1="1441.5" x2="137" y2="1441.5"/>
<line x1="150" y1="1490" x2="150" y2="1428.6"/><rect x="144" y="1431.8" width="12" height="50.1" fill="#f4949c" class="box"/><line x1="144" y1="1472.2" x2="156" y2="1472.2"/>
<path d="M74,1378 V1372 H131 M93,1372 V1378 M131,1372 V1378" fill="none" stroke-width="0.8"/>
<line x1="252" y1="1476.5" x2="252" y2="1455"/><rect x="246" y="1460.4" width="12" height="13.4" fill="#f7941d" class="box"/><line x1="246" y1="1465.7" x2="258" y2="1465.7"/>
<line x1="271" y1="1455" x2="271" y2="1403.8"/><rect x="265" y="1414.5" width="12" height="32.4" fill="#f7941d" class="box"/><line x1="265" y1="1430.7" x2="277" y2="1430.7"/>
<line x1="290" y1="1490" x2="290" y2="1473.8"/><rect x="284" y="1479.2" width="12" height="8.1" fill="#3a5fb5" class="box"/><line x1="284" y1="1481.9" x2="296" y2="1481.9"/>
<line x1="309" y1="1490" x2="309" y2="1483"/><rect x="303" y="1484.6" width="12" height="3.8" fill="#8db9ec" class="box"/>
<line x1="328" y1="1490" x2="328" y2="1476.5"/><rect x="322" y="1476.5" width="12" height="10.8" fill="#f4949c" class="box"/><line x1="322" y1="1481.9" x2="334" y2="1481.9"/>
<path d="M252,1374 V1370 H330 M271,1386 V1383 H330" fill="none" stroke-width="0.8"/>
</g>
<text x="826" y="1387" text-anchor="middle" style="font-size:10px">*</text>
<text x="864" y="1387" text-anchor="middle" style="font-size:10px">*</text>
<text x="1023" y="1382" text-anchor="middle" style="font-size:9px">**** **** **** **</text>
<text x="1032" y="1396" text-anchor="middle" style="font-size:9px">*** *** ***</text>
</svg>
</body></html>
